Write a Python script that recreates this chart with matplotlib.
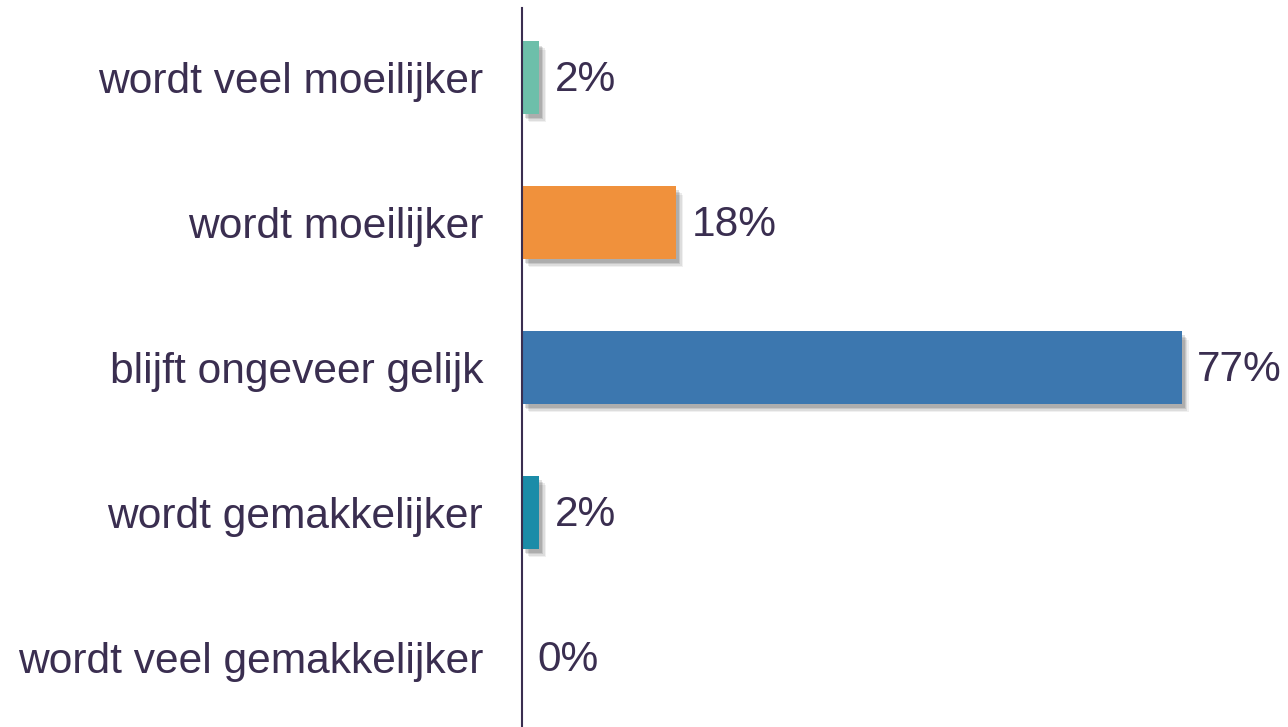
import matplotlib
matplotlib.use("Agg")
import matplotlib.pyplot as plt
import matplotlib.patheffects as pe

categories = ["wordt veel moeilijker", "wordt moeilijker", "blijft ongeveer gelijk",
              "wordt gemakkelijker", "wordt veel gemakkelijker"]
values = [2, 18, 77, 2, 0]
labels = ["2%", "18%", "77%", "2%", "0%"]
colors = ["#6DBFAA", "#F0913C", "#3C77AF", "#1B8CA8", "#888888"]

text_color = "#3A2E50"
plt.rcParams['font.family'] = ['Liberation Sans', 'DejaVu Sans']

fig = plt.figure(figsize=(12.88, 7.27), dpi=100)
ax = fig.add_axes([522/1288, 0, 1 - 522/1288, 1 - 8/727])

y = list(range(len(categories)))
shadow = [pe.SimplePatchShadow(offset=(5, -6), shadow_rgbFace="#000000", alpha=0.06),
          pe.SimplePatchShadow(offset=(4, -5), shadow_rgbFace="#000000", alpha=0.08),
          pe.SimplePatchShadow(offset=(3, -4), shadow_rgbFace="#000000", alpha=0.10),
          pe.SimplePatchShadow(offset=(2, -3), shadow_rgbFace="#000000", alpha=0.12),
          pe.Normal()]
bars = ax.barh(y, values, height=0.5, color=colors, zorder=2)
for b, v in zip(bars, values):
    if v > 0:
        b.set_path_effects(shadow)

for yi, v, lab in zip(y, values, labels):
    ax.annotate(lab, xy=(v, yi), xytext=(11, -2), textcoords="offset points",
                va="center", ha="left", fontsize=30.5, color=text_color)

ax.set_yticks(y)
ax.set_yticklabels(categories, fontsize=30.6, color=text_color)
ax.tick_params(axis='y', length=0, pad=28)
ax.set_xticks([])
ax.set_xlim(0, 89.4)
ax.set_ylim(4.48, -0.48)
for s in ["top", "right", "bottom"]:
    ax.spines[s].set_visible(False)
ax.spines["left"].set_color(text_color)
ax.spines["left"].set_linewidth(1.5)
ax.spines["left"].set_zorder(3)

fig.savefig("out.png", dpi=100)
